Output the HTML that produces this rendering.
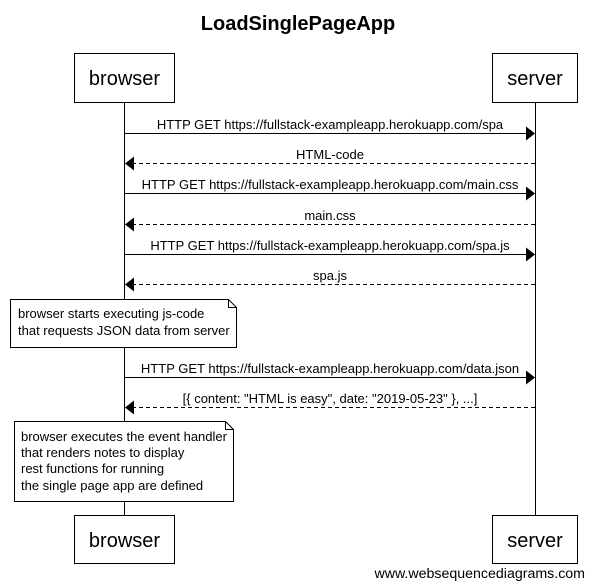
<!DOCTYPE html>
<html><head><meta charset="utf-8"><style>
html,body{margin:0;padding:0;background:#fff;}
svg{display:block;}
text{font-family:"Liberation Sans",sans-serif;fill:#000;}
</style></head><body>
<svg width="593" height="588" viewBox="0 0 593 588" xmlns="http://www.w3.org/2000/svg">
<text x="298" y="30" font-size="20" font-weight="bold" text-anchor="middle">LoadSinglePageApp</text>
<g stroke="#000" fill="#fff" stroke-width="1">
<line x1="124.5" y1="102" x2="124.5" y2="515"/>
<line x1="535.5" y1="102" x2="535.5" y2="515"/>
<rect x="74.5" y="53.5" width="100" height="49"/>
<rect x="492.5" y="53.5" width="85" height="49"/>
<rect x="74.5" y="515.5" width="100" height="48"/>
<rect x="492.5" y="515.5" width="85" height="48"/>
</g>
<g font-size="20" text-anchor="middle">
<text x="124.5" y="85">browser</text>
<text x="535" y="85">server</text>
<text x="124.5" y="547">browser</text>
<text x="535" y="547">server</text>
</g>
<g stroke="#000" stroke-width="1">
<line x1="124.5" y1="133.5" x2="528" y2="133.5"/>
<line x1="132" y1="163.5" x2="535" y2="163.5" stroke-dasharray="4,3"/>
<line x1="124.5" y1="193.5" x2="528" y2="193.5"/>
<line x1="132" y1="224.5" x2="535" y2="224.5" stroke-dasharray="4,3"/>
<line x1="124.5" y1="254.5" x2="528" y2="254.5"/>
<line x1="132" y1="284.5" x2="535" y2="284.5" stroke-dasharray="4,3"/>
<line x1="124.5" y1="377.5" x2="528" y2="377.5"/>
<line x1="132" y1="407.5" x2="535" y2="407.5" stroke-dasharray="4,3"/>
</g>
<g fill="#000">
<polygon points="526,126.5 535,133.5 526,140.5"/>
<polygon points="134,156.5 125,163.5 134,170.5"/>
<polygon points="526,186.5 535,193.5 526,200.5"/>
<polygon points="134,217.5 125,224.5 134,231.5"/>
<polygon points="526,247.5 535,254.5 526,261.5"/>
<polygon points="134,277.5 125,284.5 134,291.5"/>
<polygon points="526,370.5 535,377.5 526,384.5"/>
<polygon points="134,400.5 125,407.5 134,414.5"/>
</g>
<g font-size="13" text-anchor="middle">
<text x="330" y="129">HTTP GET https://fullstack-exampleapp.herokuapp.com/spa</text>
<text x="330" y="159">HTML-code</text>
<text x="330" y="189">HTTP GET https://fullstack-exampleapp.herokuapp.com/main.css</text>
<text x="330" y="220">main.css</text>
<text x="330" y="250">HTTP GET https://fullstack-exampleapp.herokuapp.com/spa.js</text>
<text x="330" y="280">spa.js</text>
<text x="330" y="373">HTTP GET https://fullstack-exampleapp.herokuapp.com/data.json</text>
<text x="330" y="403">[{ content: "HTML is easy", date: "2019-05-23" }, ...]</text>
</g>
<g stroke="#000" fill="#fff" stroke-width="1">
<path d="M10.5 299.5 H228.5 L236.5 307.5 V347.5 H10.5 Z"/>
<path d="M228.5 299.5 V307.5 H236.5" fill="none"/>
<path d="M14.5 421.5 H225.5 L233.5 429.5 V501.5 H14.5 Z"/>
<path d="M225.5 421.5 V429.5 H233.5" fill="none"/>
</g>
<g font-size="13">
<text x="18" y="318">browser starts executing js-code</text>
<text x="18" y="335">that requests JSON data from server</text>
<text x="21" y="441">browser executes the event handler</text>
<text x="21" y="457">that renders notes to display</text>
<text x="21" y="473">rest functions for running</text>
<text x="21" y="490">the single page app are defined</text>
</g>
<text x="585" y="578" font-size="14.2" text-anchor="end">www.websequencediagrams.com</text>
</svg>
</body></html>
